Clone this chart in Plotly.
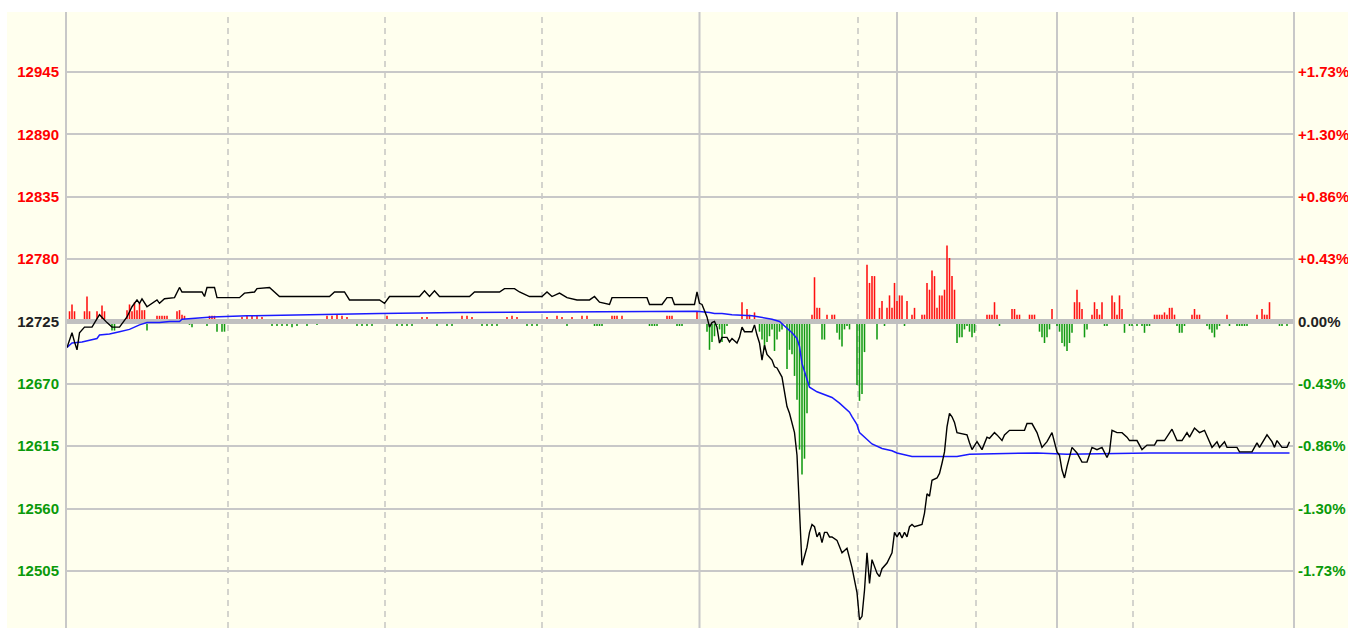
import plotly.graph_objects as go

# ---------------- data ----------------
prev_close = 12725
y_ticks = [12505, 12560, 12615, 12670, 12725, 12780, 12835, 12890, 12945]

# (minute index, price) vertices of the last-price line
price_points = [
    (0, 12702), (2, 12715), (3, 12707), (4, 12700), (5, 12715), (7, 12720), (10, 12720), (13, 12731),
    (16, 12724), (18, 12720), (21, 12720), (24, 12729), (26, 12738), (28, 12744), (29, 12741), (30, 12745),
    (32, 12738), (34, 12741), (36, 12744), (37, 12741), (39, 12745), (43, 12746), (45, 12755), (46, 12751),
    (54, 12751), (55, 12747), (56, 12755), (59, 12755), (60, 12746), (69, 12746), (71, 12750), (75, 12751),
    (76, 12754), (81, 12755), (83, 12751), (85, 12747), (105, 12747), (107, 12751), (111, 12751), (113, 12744),
    (125, 12744), (127, 12741), (129, 12747), (141, 12747), (143, 12752), (145, 12747), (147, 12752), (149, 12747),
    (161, 12747), (163, 12751), (173, 12751), (175, 12754), (179, 12754), (181, 12751), (185, 12747), (190, 12747),
    (192, 12751), (194, 12747), (197, 12750), (200, 12746), (204, 12744), (209, 12744), (211, 12747), (213, 12742),
    (217, 12740), (218, 12746), (232, 12746), (233, 12740), (238, 12740), (240, 12746), (242, 12746), (243, 12740),
    (251, 12740), (252, 12751), (253, 12741), (254, 12740), (256, 12729), (257, 12720), (258, 12724), (259, 12725),
    (260, 12720), (261, 12706), (262, 12711), (264, 12711), (265, 12707), (266, 12710), (268, 12706), (269, 12711),
    (270, 12720), (271, 12716), (274, 12716), (275, 12722), (276, 12713), (277, 12706), (278, 12691), (279, 12704),
    (280, 12696), (282, 12691), (283, 12685), (284, 12684), (286, 12676), (288, 12650), (289, 12644), (290, 12636),
    (291, 12627), (292, 12607), (293, 12560), (294, 12510), (295, 12518), (296, 12526), (297, 12539), (298, 12546),
    (299, 12544), (300, 12535), (301, 12539), (302, 12530), (303, 12539), (304, 12539), (305, 12535), (306, 12535),
    (308, 12532), (309, 12526), (310, 12521), (312, 12525), (313, 12517), (314, 12508), (316, 12486), (317, 12462),
    (318, 12465), (319, 12488), (320, 12521), (321, 12494), (322, 12515), (323, 12508), (324, 12503), (325, 12500),
    (326, 12507), (328, 12512), (329, 12516), (330, 12521), (331, 12539), (332, 12535), (333, 12539), (334, 12534),
    (335, 12539), (336, 12535), (337, 12544), (338, 12546), (339, 12544), (342, 12546), (343, 12556), (344, 12573),
    (345, 12571), (346, 12585), (348, 12587), (349, 12591), (350, 12600), (351, 12610), (352, 12632), (353, 12644),
    (354, 12641), (355, 12636), (356, 12627), (360, 12625), (361, 12618), (362, 12612), (364, 12619), (366, 12612),
    (368, 12623), (369, 12622), (371, 12627), (372, 12625), (374, 12620), (375, 12625), (377, 12629), (383, 12629),
    (384, 12635), (386, 12635), (388, 12627), (390, 12614), (392, 12619), (393, 12623), (394, 12627), (396, 12610),
    (397, 12607), (398, 12594), (399, 12587), (400, 12597), (402, 12614), (404, 12609), (406, 12601), (408, 12601),
    (410, 12614), (412, 12612), (414, 12614), (416, 12605), (417, 12610), (418, 12629), (420, 12627), (422, 12627),
    (424, 12623), (425, 12620), (428, 12620), (430, 12612), (432, 12616), (435, 12616), (436, 12620), (439, 12620),
    (442, 12630), (444, 12620), (446, 12620), (448, 12627), (449, 12623), (451, 12631), (453, 12627), (455, 12629),
    (458, 12614), (460, 12619), (461, 12614), (463, 12619), (464, 12614), (468, 12614), (469, 12610), (474, 12610),
    (476, 12618), (477, 12614), (480, 12625), (482, 12619), (483, 12614), (484, 12620), (486, 12614), (488, 12614),
    (489, 12619),
]

# (minute index, average price) vertices of the average line
avg_points = [
    (0, 12702), (2, 12706), (6, 12707), (10, 12709), (12, 12710), (13, 12713), (17, 12714), (21, 12716),
    (25, 12718), (27, 12720), (29, 12722), (32, 12724), (37, 12724), (41, 12725), (45, 12725), (46, 12727),
    (52, 12728), (58, 12729), (72, 12730), (93, 12731), (125, 12732), (157, 12733), (252, 12734), (257, 12733),
    (259, 12732), (262, 12732), (266, 12731), (274, 12730), (277, 12729), (282, 12727), (285, 12725), (288, 12719),
    (290, 12715), (292, 12710), (293, 12703), (294, 12688), (296, 12675), (297, 12667), (300, 12663), (304, 12660),
    (306, 12658), (309, 12653), (312, 12647), (313, 12645), (314, 12641), (316, 12634), (317, 12627), (320, 12621),
    (322, 12617), (326, 12613), (330, 12611), (332, 12609), (338, 12606), (345, 12606), (350, 12606), (356, 12606),
    (361, 12608), (388, 12609), (400, 12608), (433, 12609), (489, 12609),
]

# (minute index, bar value relative to previous close) - red above, green below
bar_points = [
    (1, 9), (2, 15), (3, 9), (7, 9), (8, 22), (9, 9), (12, 9), (14, 14), (15, 9), (18, -8), (19, -8),
    (24, 10), (25, 15), (26, 9), (27, 17), (28, 10), (29, 16), (30, 10), (31, 10), (32, -8), (34, -2),
    (36, 5), (37, 5), (38, 5), (39, 5), (40, 5), (44, 9), (45, 10), (46, 6), (47, 5), (49, -3), (50, -5),
    (56, -4), (57, 5), (58, 5), (59, 5), (60, -9), (62, -9), (63, -9),
    (70, 4), (72, 5), (74, 5), (76, 5), (78, 4), (82, -4), (84, -4), (86, -4), (88, -4), (90, -5), (92, -4),
    (96, -4), (100, -3), (104, 5), (106, 5), (108, 6), (110, 5), (112, 4), (116, -4), (118, -4), (120, -4),
    (122, -4), (128, 5), (132, -4), (134, -4), (136, -4), (138, -4), (142, 4), (144, 4), (148, -4), (152, -4),
    (154, -4), (158, 5), (160, 5), (162, 4), (166, -4), (168, -4), (170, -4), (172, -4), (176, 4), (178, 5),
    (180, 4), (184, -4), (186, -4), (188, -4), (192, 4), (196, 5), (198, 4), (200, -4), (202, 4), (206, 5),
    (208, 5), (211, -4), (212, -4), (213, -4), (214, -4), (218, 5), (219, 5), (220, 5), (222, 5), (233, -4),
    (234, -4), (235, -4), (236, -4), (240, 5), (241, 5), (242, 5), (244, -4), (245, -4), (246, -4), (252, 9),
    (256, -9), (257, -25), (258, -18), (259, -13), (260, -3), (261, -7), (262, -18), (263, -11), (264, -4),
    (270, 17), (272, 11), (273, 6), (275, 8), (277, -9), (278, -16), (279, -25), (280, -18), (281, -13),
    (282, -7), (283, -26), (284, -16), (285, -9), (286, -7), (288, -42), (289, -25), (290, -29), (291, -48),
    (292, -69), (293, -113), (294, -135), (295, -121), (296, -81), (297, -56), (298, 6), (299, 39), (300, 12),
    (301, 12), (302, -16), (303, -16), (304, 6), (306, 6), (307, 6), (308, -10), (309, -16), (310, -22),
    (311, -7), (312, -4), (313, -7), (314, -2), (316, -56), (317, -70), (318, -64), (319, -27), (320, 50),
    (321, 34), (322, 40), (323, 40), (324, -16), (325, 12), (326, 18), (327, -4), (328, 12), (329, 23),
    (330, 12), (331, 34), (332, 18), (333, 23), (334, 23), (335, -4), (336, 18), (338, 6), (339, 12),
    (342, 6), (343, 6), (344, 34), (345, 28), (346, 45), (347, 40), (348, 12), (349, 23), (350, 23),
    (351, 28), (352, 67), (353, 56), (354, 40), (355, 28), (356, -19), (357, -14), (358, -14), (359, -7),
    (360, -4), (361, -9), (362, -14), (363, -10), (368, 6), (369, 6), (370, 6), (371, 17), (372, 6),
    (373, -4), (378, 11), (379, 11), (380, 6), (381, 6), (385, 6), (386, 6), (387, 6), (389, -9), (390, -14),
    (391, -19), (392, -14), (393, -7), (394, 11), (396, -4), (397, -9), (398, -19), (399, -22), (400, -26),
    (401, -19), (402, -10), (403, 17), (404, 28), (405, 17), (406, 11), (407, -14), (408, -7), (410, 6),
    (411, 17), (412, 11), (413, 6), (414, 17), (415, -4), (416, -4), (418, 23), (419, 17), (420, 6),
    (421, 23), (422, 11), (423, -10), (425, -4), (426, -4), (428, -4), (430, -4), (431, -10), (432, -4),
    (433, -4), (435, 6), (436, 6), (437, 6), (438, 6), (439, 8), (440, 6), (441, 12), (442, 12), (443, 6),
    (444, -4), (445, -10), (446, -10), (447, -4), (450, 6), (451, 11), (452, 6), (453, 6), (456, -4),
    (457, -7), (458, -10), (459, -14), (460, -7), (461, -4), (464, 6), (465, -4), (468, -4), (469, -4),
    (470, -4), (471, -4), (472, -4), (476, 6), (478, 11), (479, 6), (480, 6), (481, 17), (485, -4),
    (486, -4), (488, -4),
]

# time grid positions (minute index)
grid_solid = [253, 332, 396]
grid_dashed = [64.4, 127.2, 190, 316.4, 363.6, 426.4]

x_end = 490.4
y_range = [12454.7, 12997.9]

# ---------------- build ----------------
RED = "#ff0000"
GREEN = "#0a9a0a"
BLACK = "#222222"
CREAM = "#ffffee"
GRID = "#c8c8c8"

W, H = 1348, 628
ML, MR, MT = 67, 55, 12

price_t = [p[0] for p in price_points]
price_v = [p[1] for p in price_points]
avg_t = [p[0] for p in avg_points]
avg_v = [p[1] for p in avg_points]
up_t = [b[0] for b in bar_points if b[1] > 0]
up_v = [b[1] for b in bar_points if b[1] > 0]
dn_t = [b[0] for b in bar_points if b[1] < 0]
dn_v = [b[1] for b in bar_points if b[1] < 0]


def colour(v):
    if v > prev_close:
        return RED
    if v < prev_close:
        return GREEN
    return BLACK


left_text = ['<span style="color:%s">%d</span>' % (colour(v), v) for v in y_ticks]
right_text = []
for v in y_ticks:
    pct = (v - prev_close) / prev_close * 100
    s = "0.00%" if abs(pct) < 0.005 else ("%+.2f%%" % pct)
    right_text.append('<span style="color:%s">%s</span>' % (colour(v), s))

fig = go.Figure()
fig.add_trace(go.Bar(x=up_t, y=up_v, base=prev_close, width=0.62,
                     marker=dict(color="#ff1010", line=dict(width=0)), hoverinfo="skip"))
fig.add_trace(go.Bar(x=dn_t, y=dn_v, base=prev_close, width=0.62,
                     marker=dict(color="#129a12", line=dict(width=0)), hoverinfo="skip"))
fig.add_trace(go.Scatter(x=[0, x_end], y=[prev_close, prev_close], mode="lines",
                         line=dict(color="#c0c0c0", width=5), hoverinfo="skip"))
fig.add_trace(go.Scatter(x=avg_t, y=avg_v, mode="lines",
                         line=dict(color="#1a1aff", width=1.5)))
fig.add_trace(go.Scatter(x=price_t, y=price_v, mode="lines",
                         line=dict(color="#000000", width=1.4)))
fig.add_trace(go.Scatter(x=[price_t[0]], y=[prev_close], yaxis="y2", mode="markers",
                         marker=dict(opacity=0), hoverinfo="skip"))

plot_w = W - ML - MR
shapes = []
for g in grid_solid:
    shapes.append(dict(type="line", xref="x", yref="paper", x0=g, x1=g, y0=0, y1=1,
                       line=dict(color=GRID, width=2), layer="below"))
for g in grid_dashed:
    shapes.append(dict(type="line", xref="x", yref="paper", x0=g, x1=g, y0=0, y1=1,
                       line=dict(color="#b8b8b8", width=1.2, dash="6px,5px"), layer="below"))
# white page strips outside the chart panel (top and left)
shapes.append(dict(type="rect", xref="paper", yref="paper", x0=-0.2, x1=1.2, y0=1, y1=1.2,
                   fillcolor="white", line=dict(width=0), layer="below"))
shapes.append(dict(type="rect", xref="paper", yref="paper", x0=-0.2, x1=(7 - ML) / plot_w,
                   y0=-0.2, y1=1.2, fillcolor="white", line=dict(width=0), layer="below"))

tickfont = dict(family="Liberation Sans, Arial, sans-serif", size=15, weight="bold")

fig.update_layout(
    width=W, height=H, autosize=False,
    margin=dict(l=ML, r=MR, t=MT, b=0, pad=0),
    paper_bgcolor=CREAM, plot_bgcolor=CREAM,
    showlegend=False, barmode="overlay", hovermode=False,
    shapes=shapes,
    xaxis=dict(range=[0, x_end], showgrid=False, zeroline=False, showticklabels=False,
               showline=False, ticks="", fixedrange=True),
    yaxis=dict(range=y_range, tickmode="array", tickvals=y_ticks, ticktext=left_text,
               showgrid=True, gridcolor=GRID, gridwidth=2, zeroline=False,
               showline=True, linecolor=GRID, linewidth=2, ticks="",
               tickfont=tickfont, ticklabelstandoff=3, automargin=False, fixedrange=True),
    yaxis2=dict(range=y_range, overlaying="y", side="right", tickmode="array",
                tickvals=y_ticks, ticktext=right_text, showgrid=False, zeroline=False,
                showline=True, linecolor=GRID, linewidth=2, ticks="",
                tickfont=tickfont, ticklabelstandoff=0, automargin=False, fixedrange=True),
)

fig.write_html(
    "out.html",
    config={"displayModeBar": False, "staticPlot": True},
    post_script="document.body.style.margin='0';document.documentElement.style.overflow='hidden';"
                "document.body.style.overflow='hidden';",
)
